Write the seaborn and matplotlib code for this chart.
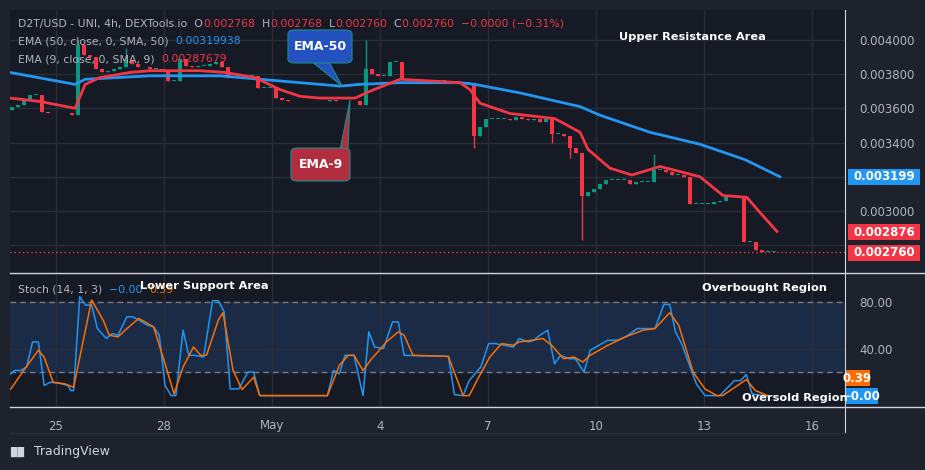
import numpy as np
import pandas as pd
import matplotlib

matplotlib.use("Agg")
import matplotlib.pyplot as plt
from matplotlib.patches import FancyBboxPatch, Polygon
import seaborn as sns

# ---- data ----
# 4h candles, first candle at day START_DAY (day 0 = Apr 25)
START_DAY = -1.22
closes = [
    0.00361, 0.00362, 0.00365, 0.00368, 0.00368, 0.00358, 0.00357, 0.00357, 0.00357, 0.00357,
    0.00356, 0.00397, 0.00391, 0.00390, 0.00383, 0.00381, 0.00382, 0.00383, 0.00384, 0.00388,
    0.00386, 0.00384, 0.00384, 0.00383, 0.00383, 0.00382, 0.00376, 0.00376, 0.00389, 0.00385,
    0.00384, 0.00385, 0.00385, 0.00386, 0.00387, 0.00384, 0.00378, 0.00378, 0.00378, 0.00379,
    0.00379, 0.00372, 0.00372, 0.00372, 0.00366, 0.00365, 0.00364, 0.00364, 0.00364, 0.00364,
    0.00364, 0.00364, 0.00364, 0.00365, 0.00364, 0.00364, 0.00364, 0.00364, 0.00362, 0.00383,
    0.00380, 0.00379, 0.00379, 0.00387, 0.00387, 0.00377, 0.00377, 0.00377, 0.00376, 0.00376,
    0.00376, 0.00376, 0.00376, 0.00375, 0.00375, 0.00375, 0.00375, 0.00344, 0.00349, 0.00354,
    0.00354, 0.00354, 0.00354, 0.00353, 0.00355, 0.00354, 0.00353, 0.00354, 0.00352, 0.00354,
    0.00345, 0.00345, 0.00344, 0.00337, 0.00334, 0.00309, 0.00311, 0.00313, 0.00316, 0.00318,
    0.00318, 0.00318, 0.00318, 0.00316, 0.00317, 0.00317, 0.00317, 0.00324, 0.00324, 0.00323,
    0.00321, 0.00321, 0.00320, 0.00304, 0.00304, 0.00304, 0.00304, 0.00305, 0.00306, 0.00308,
    0.00308, 0.00308, 0.00282, 0.00282, 0.00277, 0.00276, 0.00276, 0.00276,
]
first_open = 0.00359
wick_high = {11: 0.00400, 19: 0.00395, 59: 0.00400, 107: 0.00333}
wick_low = {77: 0.00337, 90: 0.00340, 93: 0.00331, 95: 0.00283}

ema50_day = [-1.28, 0.53, 0.81, 2.61, 4.56, 6.78, 7.89, 8.44, 9.56, 11.22, 11.64, 12.89,
             14.56, 15.11, 16.5, 17.89, 19.14, 20.11]
ema50_val = [0.00381, 0.00374, 0.00377, 0.00379, 0.00379, 0.00375, 0.00373, 0.00374, 0.00375,
             0.00375, 0.00374, 0.00369, 0.00361, 0.00356, 0.00346, 0.00339, 0.00330, 0.00320]
ema9_day = [-1.28, -0.44, 0.53, 0.81, 1.22, 2.06, 2.61, 4.0, 4.69, 5.53, 6.22, 6.78, 7.33,
            8.31, 8.72, 9.56, 11.22, 11.5, 11.78, 12.61, 13.86, 14.56, 14.78, 15.39, 16.0,
            16.78, 17.89, 18.53, 19.19, 19.56, 20.03]
ema9_val = [0.00366, 0.00364, 0.00360, 0.00374, 0.00378, 0.00381, 0.00382, 0.00382, 0.00381,
            0.00378, 0.00371, 0.00367, 0.00366, 0.00366, 0.00370, 0.00377, 0.00375, 0.00371,
            0.00363, 0.00357, 0.00354, 0.00346, 0.00336, 0.00325, 0.00321, 0.00326, 0.00320,
            0.00309, 0.00308, 0.00299, 0.00288]

k_day = [-1.26, -1.15, -0.98, -0.82, -0.65, -0.49, -0.33, -0.16, 0.08, 0.33, 0.41, 0.49, 0.66,
         0.82, 0.99, 1.15, 1.40, 1.56, 1.72, 1.97, 2.13, 2.30, 2.54, 2.71, 2.87, 3.03, 3.20,
         3.33, 3.53, 3.69, 3.85, 4.10, 4.35, 4.51, 4.67, 4.84, 5.08, 5.33, 5.49, 5.66, 7.54,
         7.71, 7.87, 8.03, 8.28, 8.53, 8.69, 8.85, 9.10, 9.35, 9.51, 9.67, 10.90, 11.07, 11.31,
         11.48, 11.80, 12.02, 12.21, 12.46, 12.71, 12.87, 13.12, 13.28, 13.44, 13.66, 13.85,
         14.02, 14.26, 14.43, 14.67, 14.84, 15.08, 15.33, 15.58, 15.82, 16.15, 16.48, 16.64,
         16.89, 17.05, 17.21, 17.38, 17.62, 17.79, 18.03, 18.44, 18.85, 19.02, 19.18, 19.34, 19.76]
k_val = [18.9, 21.7, 21.7, 24.6, 46.0, 46.0, 8.9, 11.7, 10.9, 8.9, 4.6, 4.6, 84.6, 77.4, 77.4,
         57.4, 48.9, 53.1, 51.7, 67.4, 67.4, 64.6, 60.3, 58.9, 51.7, 8.9, 0.3, 0.3, 56.0, 34.6,
         34.6, 33.1, 81.1, 81.1, 71.7, 6.0, 6.0, 20.3, 20.3, 0.3, 0.3, 21.7, 18.9, 34.6, 34.6,
         0.3, 54.6, 41.7, 40.3, 63.1, 63.1, 34.6, 33.7, 1.1, 0.3, 13.1, 24.6, 44.6, 44.6, 43.1,
         41.7, 48.9, 46.0, 47.4, 51.7, 56.0, 27.4, 34.6, 31.7, 31.7, 20.3, 38.9, 43.1, 47.4,
         47.4, 50.3, 57.4, 57.4, 57.4, 78.0, 78.0, 54.6, 44.6, 24.6, 10.3, 0.3, 0.3, 13.1,
         13.1, 18.3, 1.7, 0.0]
d_day = [-1.26, -0.90, -0.49, -0.33, -0.08, 0.25, 0.49, 0.99, 1.31, 1.48, 1.72, 1.97, 2.30,
         2.71, 3.03, 3.28, 3.53, 3.82, 4.02, 4.18, 4.51, 4.64, 4.92, 5.17, 5.49, 5.66, 7.54,
         7.87, 8.12, 8.28, 8.53, 8.77, 8.94, 9.18, 9.51, 9.67, 9.92, 10.90, 11.31, 11.48, 11.72,
         12.05, 12.38, 12.71, 12.87, 13.20, 13.53, 13.77, 14.10, 14.39, 14.64, 14.84, 15.33,
         15.82, 16.31, 16.64, 17.05, 17.30, 17.70, 18.03, 18.36, 18.52, 19.18, 19.43, 19.76]
d_val = [5.7, 21.7, 38.9, 33.1, 11.7, 10.3, 7.4, 81.7, 64.6, 51.7, 50.3, 57.4, 66.0, 58.9,
         27.4, 1.7, 24.6, 41.7, 34.6, 34.6, 64.6, 70.9, 21.7, 5.4, 16.0, 0.3, 0.3, 26.0, 34.6,
         34.6, 21.7, 31.7, 37.4, 46.0, 54.6, 51.7, 34.6, 33.7, 0.3, 0.3, 14.6, 33.1, 44.6,
         43.1, 46.0, 47.4, 48.9, 43.1, 31.7, 33.1, 28.9, 34.6, 43.1, 50.3, 56.0, 57.4, 70.9,
         60.3, 20.3, 6.0, 0.3, 0.3, 14.0, 4.6, 0.4]

date_ticks = [0, 3, 6, 9, 12, 15, 18, 21]
date_labels = ["25", "28", "May", "4", "7", "10", "13", "16"]
price_ticks = [0.0030, 0.0034, 0.0036, 0.0038, 0.0040]
grid_prices = [0.0028, 0.0030, 0.0032, 0.0034, 0.0036, 0.0038, 0.0040]

# ---- style ----
BG_OUT = "#1e222d"
BG = "#161a25"
GRID = "#2a2e39"
TXT = "#b2b5be"
UP = "#089981"
DOWN = "#f23645"
BLUE = "#2196f3"
ORANGE = "#ff6d00"

W, H = 925, 470
fig = plt.figure(figsize=(W / 100, H / 100), dpi=100, facecolor=BG_OUT)


def fx(x):
    return x / W


def fy(y):
    return 1 - y / H


ax = fig.add_axes([fx(10), fy(273), fx(835), (273 - 10) / H], facecolor=BG)
ax2 = fig.add_axes([fx(10), fy(407), fx(835), (407 - 275) / H], facecolor=BG)
xlim = (-1.278, 21.92)

# candles
df = pd.DataFrame({"close": closes})
df["open"] = [first_open] + closes[:-1]
df["day"] = START_DAY + np.arange(len(df)) / 6
df["high"] = df[["open", "close"]].max(axis=1)
df["low"] = df[["open", "close"]].min(axis=1)
for i, v in wick_high.items():
    df.loc[i, "high"] = v
for i, v in wick_low.items():
    df.loc[i, "low"] = v
colors = np.where(df["close"] >= df["open"], UP, DOWN)
ax.vlines(df["day"], df["low"], df["high"], colors=colors, lw=1, zorder=3)
body = (df["close"] - df["open"]).abs().clip(lower=0.000004)
ax.bar(df["day"], body, bottom=df[["open", "close"]].min(axis=1), width=0.11,
       color=colors, zorder=3)

sns.lineplot(x=ema50_day, y=ema50_val, ax=ax, color=BLUE, lw=2, zorder=4)
sns.lineplot(x=ema9_day, y=ema9_val, ax=ax, color=DOWN, lw=2, zorder=4)
ax.axhline(0.002760, color=DOWN, ls=(0, (1, 2)), lw=1)
for p in grid_prices:
    ax.axhline(p, color=GRID, lw=1, zorder=0)

ax.set_xlim(*xlim)
ax.set_ylim(0.002637, 0.004175)
ax.set_xticks(date_ticks)
ax.set_xticklabels([])
ax.set_yticks(price_ticks)
ax.yaxis.tick_right()
ax.tick_params(axis="y", colors=TXT, labelsize=8.5, length=0, pad=10)
ax.tick_params(axis="x", length=0)
ax.set_yticklabels([f"{p:.6f}" for p in price_ticks])
ax.grid(True, axis="x", color=GRID, lw=1)
for s in ax.spines.values():
    s.set_visible(False)
ax.set_xlabel("")
ax.set_ylabel("")

# stochastic
ax2.axhspan(20, 80, color="#1b2b46", zorder=0)
sns.lineplot(x=k_day, y=k_val, ax=ax2, color=BLUE, lw=1.1, zorder=3)
sns.lineplot(x=d_day, y=d_val, ax=ax2, color=ORANGE, lw=1.1, zorder=3)
for lvl in (80, 20):
    ax2.axhline(lvl, color="#787b86", ls=(0, (4, 3)), lw=1)
ax2.set_xlim(*xlim)
ax2.set_ylim(-9.4, 103)
ax2.set_xticks(date_ticks)
ax2.set_xticklabels(date_labels)
ax2.set_yticks([40, 80])
ax2.set_yticklabels(["40.00", "80.00"])
ax2.yaxis.tick_right()
ax2.tick_params(axis="y", colors=TXT, labelsize=8.5, length=0, pad=10)
ax2.tick_params(axis="x", colors=TXT, labelsize=8.5, length=0, pad=9)
ax2.grid(True, color=GRID, lw=1)
for s in ax2.spines.values():
    s.set_visible(False)
ax2.set_xlabel("")
ax2.set_ylabel("")

# frame lines
for y in (273, 407):
    fig.add_artist(plt.Line2D([fx(10), fx(925)], [fy(y), fy(y)], color="#d1d4dc", lw=1))
fig.add_artist(plt.Line2D([fx(845), fx(845)], [fy(10), fy(433)], color="#d1d4dc", lw=0.8))
fig.add_artist(plt.Line2D([fx(10), fx(845)], [fy(433), fy(433)], color=GRID, lw=1))


def price_box(y, txt, color, x0=848, w=72):
    fig.add_artist(FancyBboxPatch((fx(x0), fy(y + 8)), fx(w), 16 / H,
                                  boxstyle="square,pad=0", fc=color, ec="none"))
    fig.text(fx(x0 + w / 2), fy(y), txt, color="white", fontsize=8.5, fontweight="bold",
             ha="center", va="center")


price_box(177, "0.003199", BLUE)
price_box(232, "0.002876", DOWN)
price_box(253, "0.002760", DOWN)
price_box(378, "0.39", ORANGE, x0=845, w=25)
price_box(396, "\u22120.00", BLUE, x0=845, w=33)

# legends / header: consecutive pieces laid out by measured width
renderer = fig.canvas.get_renderer()


def text_row(x, y, pieces, size=7.8):
    for s, c in pieces:
        t = fig.text(fx(x), fy(y), s, color=c, fontsize=size, va="center")
        x += t.get_window_extent(renderer).width


text_row(18, 24, [("D2T/USD - UNI, 4h, DEXTools.io  O", TXT), ("0.002768", DOWN),
                  ("  H", TXT), ("0.002768", DOWN), ("  L", TXT), ("0.002760", DOWN),
                  ("  C", TXT), ("0.002760  \u22120.0000 (\u22120.31%)", DOWN)])
text_row(18, 41, [("EMA (50, close, 0, SMA, 50)  ", TXT), ("0.00319938", BLUE)])
text_row(18, 59, [("EMA (9, close, 0, SMA, 9)  ", TXT), ("0.00287679", DOWN)])
text_row(18, 290, [("Stoch (14, 1, 3)  ", TXT), ("\u22120.00  ", BLUE), ("0.39", ORANGE)])

for x, y, s in [(692, 37, "Upper Resistance Area"), (204, 286, "Lower Support Area"),
                (765, 288, "Overbought Region"), (795, 398, "Oversold Region")]:
    fig.text(fx(x), fy(y), s, color="white", fontsize=8.2, fontweight="bold",
             ha="center", va="center")


def callout(x0, y0, w, h, tip, base, txt, color):
    fig.add_artist(Polygon([(fx(base[0][0]), fy(base[0][1])), (fx(tip[0]), fy(tip[1])),
                            (fx(base[1][0]), fy(base[1][1]))], closed=True, fc=color,
                           ec="#1e8c8c", lw=0.8))
    fig.add_artist(FancyBboxPatch((fx(x0), fy(y0 + h)), fx(w), h / H,
                                  boxstyle="round,pad=0,rounding_size=0.008",
                                  fc=color, ec="#1e8c8c", lw=0.8))
    fig.text(fx(x0 + w / 2), fy(y0 + h / 2), txt, color="white", fontsize=9,
             fontweight="bold", ha="center", va="center")


callout(288, 30, 64, 33, (342, 86), [(310, 60), (328, 60)], "EMA-50", "#2451c0")
callout(291, 148, 59, 33, (350, 100), [(340, 150), (348, 150)], "EMA-9", "#b22d3e")

fig.text(fx(10), fy(452), "\u2589\u2589", color="#d1d4dc", fontsize=7, va="center")
fig.text(fx(34), fy(452), "TradingView", color="#d1d4dc", fontsize=9, va="center")

fig.savefig("out.png", dpi=100, facecolor=BG_OUT)
